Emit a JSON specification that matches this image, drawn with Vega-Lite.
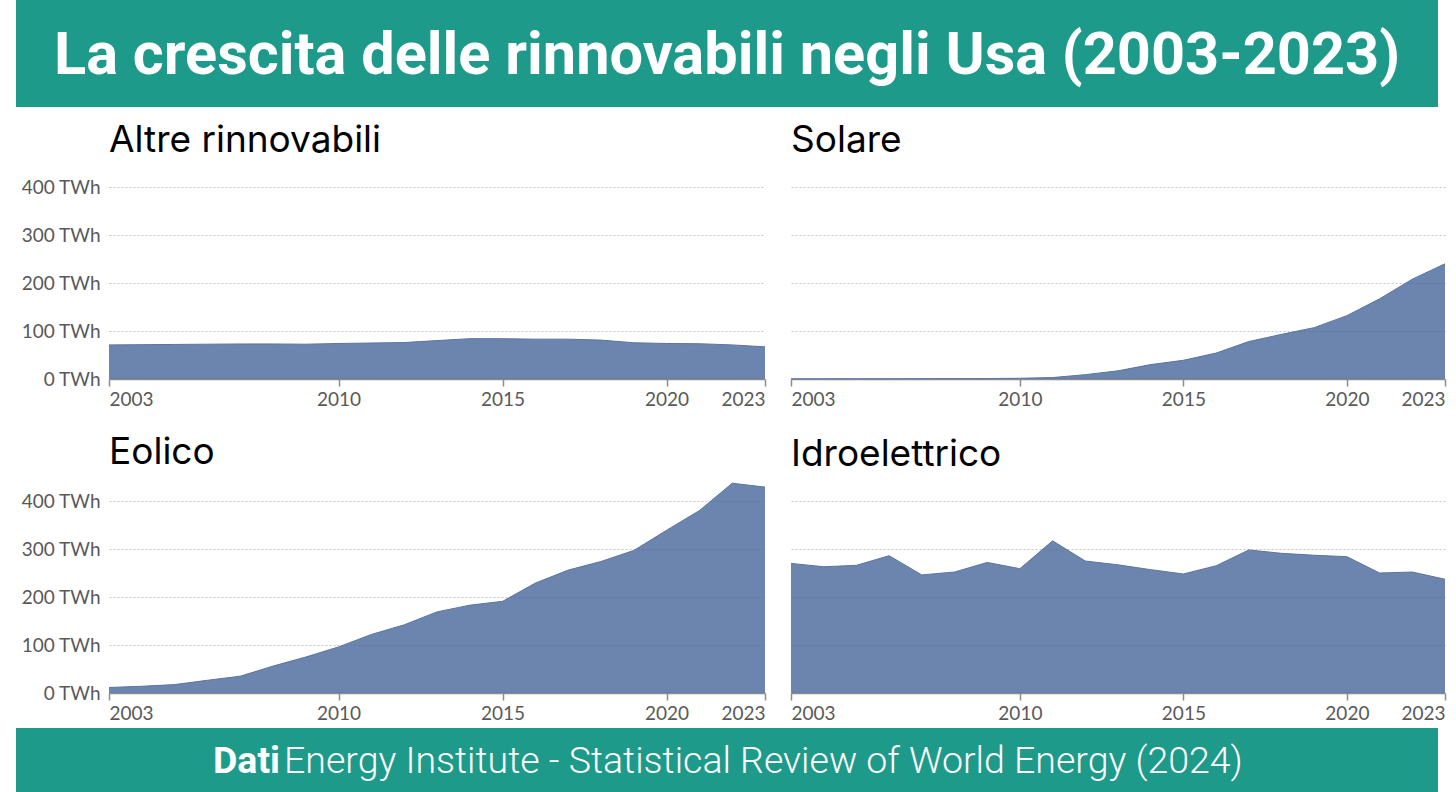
{
  "$schema": "https://vega.github.io/schema/vega-lite/v6.json",
  "padding": {"left": 16, "top": 0, "right": 0, "bottom": 0},
  "background": "white",
  "bounds": "full",
  "spacing": 15,
  "datasets": {
    "energia": [
      {"fonte": "Altre rinnovabili", "anno": 2003, "twh": 71},
      {"fonte": "Altre rinnovabili", "anno": 2004, "twh": 71.5},
      {"fonte": "Altre rinnovabili", "anno": 2005, "twh": 72},
      {"fonte": "Altre rinnovabili", "anno": 2006, "twh": 72.5},
      {"fonte": "Altre rinnovabili", "anno": 2007, "twh": 73},
      {"fonte": "Altre rinnovabili", "anno": 2008, "twh": 73},
      {"fonte": "Altre rinnovabili", "anno": 2009, "twh": 72.5},
      {"fonte": "Altre rinnovabili", "anno": 2010, "twh": 74},
      {"fonte": "Altre rinnovabili", "anno": 2011, "twh": 75},
      {"fonte": "Altre rinnovabili", "anno": 2012, "twh": 76},
      {"fonte": "Altre rinnovabili", "anno": 2013, "twh": 80},
      {"fonte": "Altre rinnovabili", "anno": 2014, "twh": 84},
      {"fonte": "Altre rinnovabili", "anno": 2015, "twh": 84},
      {"fonte": "Altre rinnovabili", "anno": 2016, "twh": 83},
      {"fonte": "Altre rinnovabili", "anno": 2017, "twh": 83},
      {"fonte": "Altre rinnovabili", "anno": 2018, "twh": 81},
      {"fonte": "Altre rinnovabili", "anno": 2019, "twh": 75.5},
      {"fonte": "Altre rinnovabili", "anno": 2020, "twh": 74},
      {"fonte": "Altre rinnovabili", "anno": 2021, "twh": 73.5},
      {"fonte": "Altre rinnovabili", "anno": 2022, "twh": 71},
      {"fonte": "Altre rinnovabili", "anno": 2023, "twh": 67},
      {"fonte": "Solare", "anno": 2003, "twh": 0.5},
      {"fonte": "Solare", "anno": 2004, "twh": 0.6},
      {"fonte": "Solare", "anno": 2005, "twh": 0.6},
      {"fonte": "Solare", "anno": 2006, "twh": 0.6},
      {"fonte": "Solare", "anno": 2007, "twh": 0.7},
      {"fonte": "Solare", "anno": 2008, "twh": 0.9},
      {"fonte": "Solare", "anno": 2009, "twh": 1.0},
      {"fonte": "Solare", "anno": 2010, "twh": 1.5},
      {"fonte": "Solare", "anno": 2011, "twh": 3},
      {"fonte": "Solare", "anno": 2012, "twh": 9},
      {"fonte": "Solare", "anno": 2013, "twh": 17},
      {"fonte": "Solare", "anno": 2014, "twh": 30},
      {"fonte": "Solare", "anno": 2015, "twh": 39},
      {"fonte": "Solare", "anno": 2016, "twh": 54},
      {"fonte": "Solare", "anno": 2017, "twh": 78},
      {"fonte": "Solare", "anno": 2018, "twh": 93},
      {"fonte": "Solare", "anno": 2019, "twh": 107},
      {"fonte": "Solare", "anno": 2020, "twh": 132},
      {"fonte": "Solare", "anno": 2021, "twh": 167},
      {"fonte": "Solare", "anno": 2022, "twh": 208},
      {"fonte": "Solare", "anno": 2023, "twh": 240},
      {"fonte": "Eolico", "anno": 2003, "twh": 11.5},
      {"fonte": "Eolico", "anno": 2004, "twh": 14},
      {"fonte": "Eolico", "anno": 2005, "twh": 17.5},
      {"fonte": "Eolico", "anno": 2006, "twh": 26.5},
      {"fonte": "Eolico", "anno": 2007, "twh": 35},
      {"fonte": "Eolico", "anno": 2008, "twh": 56},
      {"fonte": "Eolico", "anno": 2009, "twh": 75},
      {"fonte": "Eolico", "anno": 2010, "twh": 96},
      {"fonte": "Eolico", "anno": 2011, "twh": 122},
      {"fonte": "Eolico", "anno": 2012, "twh": 142},
      {"fonte": "Eolico", "anno": 2013, "twh": 169},
      {"fonte": "Eolico", "anno": 2014, "twh": 183},
      {"fonte": "Eolico", "anno": 2015, "twh": 191},
      {"fonte": "Eolico", "anno": 2016, "twh": 229},
      {"fonte": "Eolico", "anno": 2017, "twh": 256},
      {"fonte": "Eolico", "anno": 2018, "twh": 274},
      {"fonte": "Eolico", "anno": 2019, "twh": 297},
      {"fonte": "Eolico", "anno": 2020, "twh": 339},
      {"fonte": "Eolico", "anno": 2021, "twh": 380},
      {"fonte": "Eolico", "anno": 2022, "twh": 437},
      {"fonte": "Eolico", "anno": 2023, "twh": 429},
      {"fonte": "Idroelettrico", "anno": 2003, "twh": 270},
      {"fonte": "Idroelettrico", "anno": 2004, "twh": 263},
      {"fonte": "Idroelettrico", "anno": 2005, "twh": 266},
      {"fonte": "Idroelettrico", "anno": 2006, "twh": 286},
      {"fonte": "Idroelettrico", "anno": 2007, "twh": 246},
      {"fonte": "Idroelettrico", "anno": 2008, "twh": 252},
      {"fonte": "Idroelettrico", "anno": 2009, "twh": 272},
      {"fonte": "Idroelettrico", "anno": 2010, "twh": 259},
      {"fonte": "Idroelettrico", "anno": 2011, "twh": 317},
      {"fonte": "Idroelettrico", "anno": 2012, "twh": 275},
      {"fonte": "Idroelettrico", "anno": 2013, "twh": 267},
      {"fonte": "Idroelettrico", "anno": 2014, "twh": 257},
      {"fonte": "Idroelettrico", "anno": 2015, "twh": 248},
      {"fonte": "Idroelettrico", "anno": 2016, "twh": 265},
      {"fonte": "Idroelettrico", "anno": 2017, "twh": 298},
      {"fonte": "Idroelettrico", "anno": 2018, "twh": 291},
      {"fonte": "Idroelettrico", "anno": 2019, "twh": 287},
      {"fonte": "Idroelettrico", "anno": 2020, "twh": 284},
      {"fonte": "Idroelettrico", "anno": 2021, "twh": 250},
      {"fonte": "Idroelettrico", "anno": 2022, "twh": 252},
      {"fonte": "Idroelettrico", "anno": 2023, "twh": 237}
    ],
    "banner": [{"testo": "La crescita delle rinnovabili negli Usa (2003-2023)"}],
    "fonte": [{"bold": "Dati", "testo": "Energy Institute - Statistical Review of World Energy (2024)"}]
  },
  "config": {
    "view": {"stroke": null},
    "font": "Lato",
    "axis": {"labelFont": "Lato", "labelFontSize": 19, "labelColor": "#595959", "title": null},
    "title": {"font": "Inter", "fontSize": 37, "fontWeight": 400, "color": "#000000", "anchor": "start", "frame": "group"}
  },
  "vconcat": [
    {
      "width": 1422,
      "height": 107,
      "view": {"fill": "#1d9a89", "stroke": null},
      "data": {"name": "banner"},
      "mark": {"type": "text", "font": "Roboto", "fontSize": 59.5, "fontWeight": "bold", "color": "white", "align": "center", "baseline": "middle", "dy": 2},
      "encoding": {"text": {"field": "testo"}}
    },
    {
      "spacing": 5,
      "vconcat": [
        {
          "spacing": 0,
          "align": "none",
          "hconcat": [
            {
              "width": 1,
              "height": 1,
              "data": {"values": []},
              "mark": "point"
            },
            {
              "spacing": 25,
              "vconcat": [
                {
                  "spacing": 22,
                  "hconcat": [
                    {
                      "width": 656, "height": 192,
                      "title": {"text": "Altre rinnovabili", "offset": 18},
                      "data": {"name": "energia"},
                      "transform": [{"filter": "datum.fonte === 'Altre rinnovabili'"}],
                      "mark": {"type": "area", "color": "#46669a", "opacity": 0.8, "clip": false, "line": {"color": "#5b74a1", "strokeWidth": 1, "opacity": 1}},
                      "encoding": {
                        "x": {"field": "anno", "type": "quantitative", "scale": {"domain": [2003, 2023], "nice": false, "zero": false},
                          "axis": {"values": [2003, 2010, 2015, 2020, 2023], "format": "d", "labelFlush": true, "grid": false, "tickSize": 7, "tickWidth": 1.5, "tickColor": "#8c8c8c", "domainColor": "#8c8c8c", "domainWidth": 1.5, "labelPadding": 4}},
                        "y": {"field": "twh", "type": "quantitative", "scale": {"domain": [0, 400], "nice": false},
                          "axis": {"values": [0, 100, 200, 300, 400], "format": "d", "labelExpr": "datum.label + ' TWh'", "ticks": false, "tickSize": 0, "domain": false, "grid": true, "gridDash": [2, 2], "gridColor": "#c4c4c4", "labelPadding": 9, "minExtent": 92}}
                      }
                    },
                    {
                      "width": 654, "height": 192,
                      "title": {"text": "Solare", "offset": 27},
                      "data": {"name": "energia"},
                      "transform": [{"filter": "datum.fonte === 'Solare'"}],
                      "mark": {"type": "area", "color": "#46669a", "opacity": 0.8, "clip": false, "line": {"color": "#5b74a1", "strokeWidth": 1, "opacity": 1}},
                      "encoding": {
                        "x": {"field": "anno", "type": "quantitative", "scale": {"domain": [2003, 2023], "nice": false, "zero": false},
                          "axis": {"values": [2003, 2010, 2015, 2020, 2023], "format": "d", "labelFlush": true, "grid": false, "tickSize": 7, "tickWidth": 1.5, "tickColor": "#8c8c8c", "domainColor": "#8c8c8c", "domainWidth": 1.5, "labelPadding": 4}},
                        "y": {"field": "twh", "type": "quantitative", "scale": {"domain": [0, 400], "nice": false},
                          "axis": {"values": [0, 100, 200, 300, 400], "labels": false, "ticks": false, "tickSize": 0, "domain": false, "grid": true, "gridDash": [2, 2], "gridColor": "#c4c4c4", "minExtent": 0}}
                      }
                    }
                  ]
                },
                {
                  "spacing": 22,
                  "hconcat": [
                    {
                      "width": 656, "height": 192,
                      "title": {"text": "Eolico", "offset": 9},
                      "data": {"name": "energia"},
                      "transform": [{"filter": "datum.fonte === 'Eolico'"}],
                      "mark": {"type": "area", "color": "#46669a", "opacity": 0.8, "clip": false, "line": {"color": "#5b74a1", "strokeWidth": 1, "opacity": 1}},
                      "encoding": {
                        "x": {"field": "anno", "type": "quantitative", "scale": {"domain": [2003, 2023], "nice": false, "zero": false},
                          "axis": {"values": [2003, 2010, 2015, 2020, 2023], "format": "d", "labelFlush": true, "grid": false, "tickSize": 7, "tickWidth": 1.5, "tickColor": "#8c8c8c", "domainColor": "#8c8c8c", "domainWidth": 1.5, "labelPadding": 4}},
                        "y": {"field": "twh", "type": "quantitative", "scale": {"domain": [0, 400], "nice": false},
                          "axis": {"values": [0, 100, 200, 300, 400], "format": "d", "labelExpr": "datum.label + ' TWh'", "ticks": false, "tickSize": 0, "domain": false, "grid": true, "gridDash": [2, 2], "gridColor": "#c4c4c4", "labelPadding": 9, "minExtent": 92}}
                      }
                    },
                    {
                      "width": 654, "height": 192,
                      "title": {"text": "Idroelettrico", "offset": 27},
                      "data": {"name": "energia"},
                      "transform": [{"filter": "datum.fonte === 'Idroelettrico'"}],
                      "mark": {"type": "area", "color": "#46669a", "opacity": 0.8, "clip": false, "line": {"color": "#5b74a1", "strokeWidth": 1, "opacity": 1}},
                      "encoding": {
                        "x": {"field": "anno", "type": "quantitative", "scale": {"domain": [2003, 2023], "nice": false, "zero": false},
                          "axis": {"values": [2003, 2010, 2015, 2020, 2023], "format": "d", "labelFlush": true, "grid": false, "tickSize": 7, "tickWidth": 1.5, "tickColor": "#8c8c8c", "domainColor": "#8c8c8c", "domainWidth": 1.5, "labelPadding": 4}},
                        "y": {"field": "twh", "type": "quantitative", "scale": {"domain": [0, 400], "nice": false},
                          "axis": {"values": [0, 100, 200, 300, 400], "labels": false, "ticks": false, "tickSize": 0, "domain": false, "grid": true, "gridDash": [2, 2], "gridColor": "#c4c4c4", "minExtent": 0}}
                      }
                    }
                  ]
                }
              ]
            }
          ]
        },
        {
          "width": 1422,
          "height": 64,
          "view": {"fill": "#1d9a89", "stroke": null},
          "data": {"name": "fonte"},
          "layer": [
            {
              "mark": {"type": "text", "font": "Roboto", "fontSize": 37.5, "fontWeight": "bold", "color": "white", "align": "right", "baseline": "middle", "dx": -447, "dy": 2},
              "encoding": {"text": {"field": "bold"}}
            },
            {
              "mark": {"type": "text", "font": "Roboto", "fontSize": 37.5, "fontWeight": 300, "color": "white", "align": "left", "baseline": "middle", "dx": -443, "dy": 2},
              "encoding": {"text": {"field": "testo"}}
            }
          ]
        }
      ]
    }
  ]
}
